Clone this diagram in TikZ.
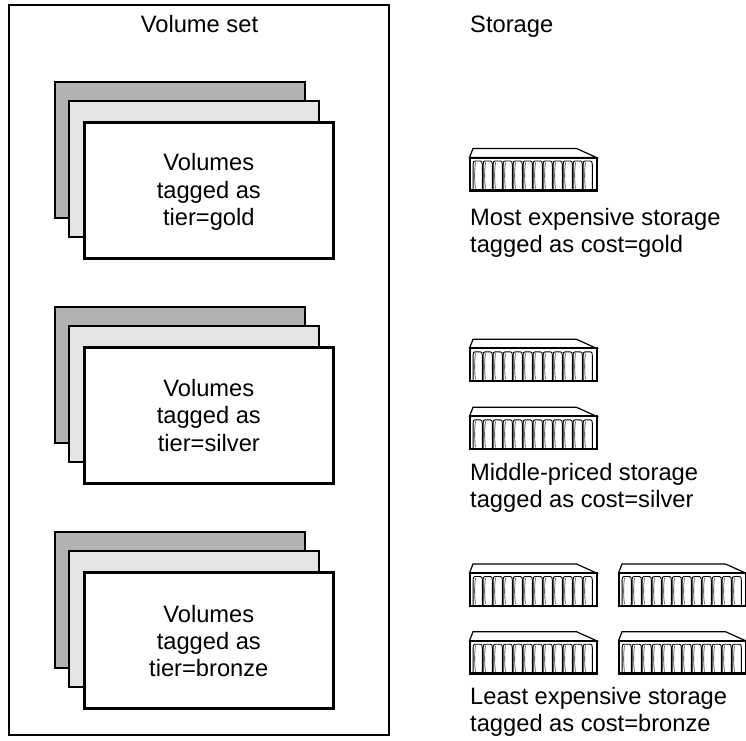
\documentclass[tikz,border=0pt]{standalone}
\usepackage{fontspec}
\setmainfont{Liberation Sans}
\tikzset{
  x=1pt,y=-1pt,
  outerbox/.style={draw=black,line width=2pt,fill=white},
  backsheet/.style={draw=black,line width=2pt,fill=black!30},
  midsheet/.style={draw=black,line width=2pt,fill=black!10},
  frontsheet/.style={draw=black,line width=3pt,fill=white},
  label/.style={font=\fontsize{23.7}{27.2}\selectfont,align=center,text=black,inner sep=0pt},
  leftlabel/.style={label,align=left,anchor=north west},
  racktop/.style={draw=black,line width=1.2pt,fill=white},
  rack/.style={draw=black,line width=2pt,fill=white},
  slot/.style={draw=black,line width=.9pt},
  bow/.style={draw=black!60,line width=.8pt},
}
\newcommand{\stackof}[4]{%
  \begin{scope}[yshift=-#1pt]
    \draw[backsheet] (55,82) rectangle (305,217.5);
    \draw[midsheet] (69,100.7) rectangle (319,236.7);
    \draw[frontsheet] (84.3,122.3) rectangle (333.3,258.3);
    \node[label] (#2) at (208.8,#4) {Volumes\\tagged as\\#3};
  \end{scope}}
\newcommand{\rackicon}[2]{%
  \begin{scope}[xshift=#1pt,yshift=-#2pt]
    \draw[racktop] (0,9) -- (3.5,0) -- (107,0) -- (127,9) -- cycle;
    \draw[rack] (0,9) rectangle (127,42);
    \foreach \i in {0,...,11}{
      \pgfmathsetmacro{\xa}{3.6+\i*10}
      \pgfmathsetmacro{\xb}{\xa+9.2}
      \draw[slot] (\xa,41) -- (\xa,16) .. controls (\xa,13.5) and (\xa+.5,12.5) .. (\xa+2,12.5)
        -- (\xb-2,12.5) .. controls (\xb-.5,12.5) and (\xb,13.5) .. (\xb,16) -- (\xb,41);
      \draw[bow] (\xa+2.4,14) .. controls (\xa+1.2,22) and (\xa+1.2,32) .. (\xa+2.4,40);
    }
    \draw[line width=2.2pt] (0,41.8) -- (127,41.8);
  \end{scope}}
\begin{document}
\begin{tikzpicture}
\useasboundingbox (0,0) rectangle (746,740);
\draw[outerbox] (9.3,5) rectangle (389,735);
\node[label,anchor=base] (settitle) at (199.5,32.7) {Volume set};
\node[label,anchor=base west] (stotitle) at (470,32.7) {Storage};
\stackof{0}{gold}{tier=gold}{192}
\stackof{225}{silver}{tier=silver}{190.5}
\stackof{450}{bronze}{tier=bronze}{191}
\rackicon{469.5}{148.5}
\rackicon{469.5}{339.3}
\rackicon{469.5}{407.3}
\rackicon{469.5}{564}
\rackicon{618.5}{564}
\rackicon{469.5}{631.7}
\rackicon{618.5}{631.7}
\node[leftlabel] (costgold) at (470,208) {Most expensive storage\\tagged as cost=gold};
\node[leftlabel] (costsilver) at (470,462.7) {Middle-priced storage\\tagged as cost=silver};
\node[leftlabel] (costbronze) at (470,687) {Least expensive storage\\tagged as cost=bronze};
\end{tikzpicture}
\end{document}
